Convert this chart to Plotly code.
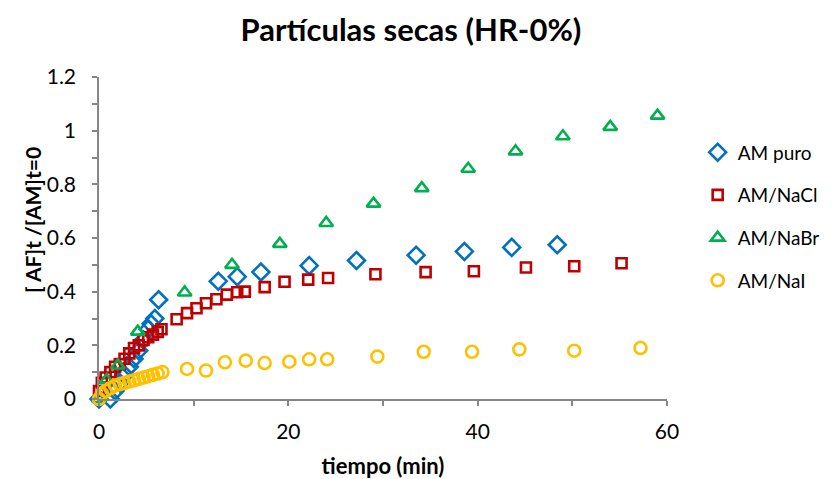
import plotly.graph_objects as go

# AM puro (blue diamonds)
puro_x = [0.0, 1.2, 1.7, 2.2, 2.7, 3.2, 3.7, 4.2, 4.7, 5.2, 5.5, 5.9, 6.3, 12.6, 14.6, 17.1, 22.2, 27.2, 33.5, 38.6, 43.6, 48.4]
puro_y = [0.0, 0.0, 0.03, 0.06, 0.09, 0.12, 0.15, 0.18, 0.22, 0.26, 0.28, 0.30, 0.37, 0.439, 0.456, 0.473, 0.497, 0.516, 0.536, 0.55, 0.565, 0.575]

# AM/NaCl (red squares)
nacl_x = [0.0, 0.3, 0.7, 1.2, 1.7, 2.2, 2.7, 3.2, 3.7, 4.2, 4.7, 5.2, 5.7, 6.2, 6.6, 8.2, 9.3, 10.3, 11.3, 12.4, 13.5, 14.6, 15.4, 17.5, 19.6, 22.1, 24.2, 29.2, 34.5, 39.6, 45.1, 50.2, 55.2]
nacl_y = [0.03, 0.06, 0.08, 0.10, 0.12, 0.13, 0.15, 0.17, 0.19, 0.20, 0.22, 0.23, 0.24, 0.25, 0.26, 0.297, 0.32, 0.338, 0.357, 0.372, 0.389, 0.398, 0.40, 0.417, 0.437, 0.445, 0.451, 0.465, 0.473, 0.476, 0.49, 0.495, 0.506]

# AM/NaBr (green triangles)
nabr_x = [0.0, 0.8, 2.0, 4.1, 9.05, 14.05, 19.1, 24.0, 29.0, 34.1, 39.0, 44.0, 49.0, 54.0, 59.0]
nabr_y = [0.0, 0.07, 0.125, 0.251, 0.397, 0.50, 0.578, 0.656, 0.728, 0.786, 0.858, 0.923, 0.979, 1.014, 1.056]

# AM/NaI (yellow circles)
nai_x = [0.0, 0.3, 0.7, 1.2, 1.7, 2.2, 2.7, 3.2, 3.7, 4.2, 4.7, 5.2, 5.7, 6.2, 6.7, 9.3, 11.3, 13.3, 15.5, 17.5, 20.1, 22.2, 24.1, 29.4, 34.3, 39.4, 44.4, 50.2, 57.2]
nai_y = [0.0, 0.02, 0.03, 0.04, 0.05, 0.055, 0.06, 0.065, 0.07, 0.075, 0.08, 0.085, 0.09, 0.095, 0.10, 0.112, 0.106, 0.137, 0.143, 0.134, 0.139, 0.148, 0.148, 0.158, 0.176, 0.176, 0.185, 0.18, 0.19]

x_ticks = [0, 20, 40, 60]
y_ticks = [0, 0.2, 0.4, 0.6, 0.8, 1.0, 1.2]
y_tick_text = ["0", "0.2", "0.4", "0.6", "0.8", "1", "1.2"]

series = [
    ("AM puro", puro_x, puro_y, "diamond-open", "#0070C0", 13),
    ("AM/NaCl", nacl_x, nacl_y, "square-open", "#C00000", 10),
    ("AM/NaBr", nabr_x, nabr_y, "triangle-up-open", "#00B050", 12),
    ("AM/NaI", nai_x, nai_y, "circle-open", "#FFC000", 12),
]

FONT = "Lato, 'Open Sans', sans-serif"
W, H = 824, 471  # page body adds an 8px offset

fig = go.Figure()
for i, (name, xs, ys, sym, col, sz) in enumerate(series):
    fig.add_trace(go.Scatter(
        x=xs, y=ys, mode="markers", name=name, legendgroup=str(i),
        marker=dict(symbol=sym, size=sz, color=col, line=dict(color=col, width=2.6)),
        cliponaxis=False,
    ))

axis_common = dict(
    showgrid=False, zeroline=False, showline=True, linecolor="#868686", linewidth=1.5,
    ticks="outside", tickcolor="#868686", ticklen=5, tickwidth=1.5,
    tickfont=dict(family=FONT, size=21, color="#000000"),
    automargin=False,
)

fig.update_layout(
    width=W, height=H,
    paper_bgcolor="white", plot_bgcolor="white",
    margin=dict(l=91, r=165, t=69, b=80, autoexpand=False),
    title=dict(text="<b>Partículas secas (HR-0%)</b>", x=0.489, xanchor="center",
               xref="container", yref="container", y=0.953, yanchor="middle",
               font=dict(family=FONT, size=31, color="#000000")),
    font=dict(family=FONT, color="#000000"),
    showlegend=True,
    legend=dict(x=1.054, y=0.825, xanchor="left", yanchor="top",
                font=dict(family=FONT, size=19, color="#000000"),
                tracegroupgap=15, itemwidth=30, bgcolor="rgba(0,0,0,0)"),
    annotations=[dict(
        text="<b>[ AF]t /[AM]t=0</b>", textangle=-90,
        xref="paper", yref="paper", x=(24 - 91) / 568, y=(391 - 212) / 322,
        xanchor="center", yanchor="middle", showarrow=False,
        font=dict(family=FONT, size=21, color="#000000"),
    )],
)

fig.update_xaxes(
    range=[0, 60], tickvals=x_ticks, ticklabelstandoff=8,
    minor=dict(ticks="outside", dtick=10, ticklen=5, tickcolor="#868686", tickwidth=1.5),
    title=dict(text="<b>tiempo (min)</b>", font=dict(family=FONT, size=22), standoff=18),
    **axis_common,
)
fig.update_yaxes(
    range=[0, 1.2], tickvals=y_ticks, ticktext=y_tick_text, ticklabelstandoff=12,
    minor=dict(ticks="outside", dtick=0.1, ticklen=5, tickcolor="#868686", tickwidth=1.5),
    **axis_common,
)

fig.write_html("out.html")
